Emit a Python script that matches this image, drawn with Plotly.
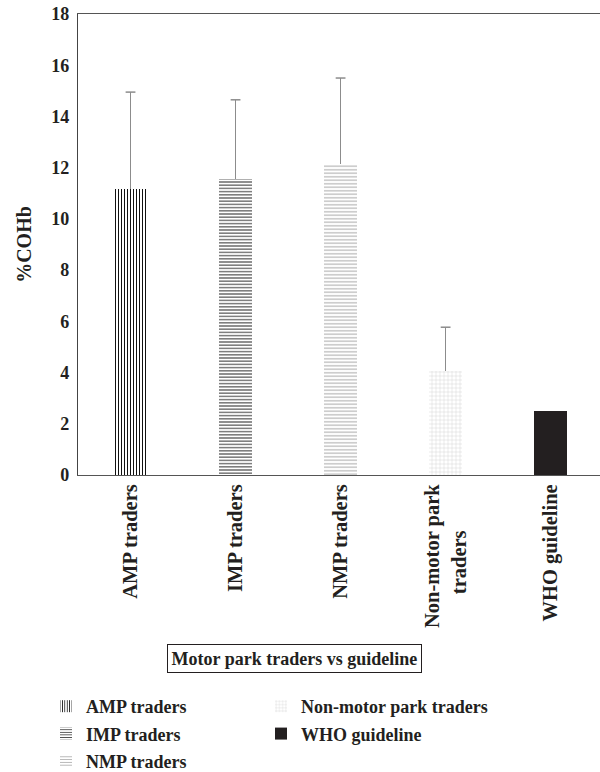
import plotly.graph_objects as go

categories = ["AMP traders", "IMP traders", "NMP traders", "Non-motor park traders", "WHO guideline"]
tick_labels = ["AMP traders", "IMP traders", "NMP traders",
               "Non-motor park<br>traders" + "\u00a0" * 9, "WHO guideline"]
cohb_mean = [11.15, 11.55, 12.15, 4.05, 2.5]
cohb_sd = [3.8, 3.1, 3.35, 1.72, None]
y_ticks = [0, 2, 4, 6, 8, 10, 12, 14, 16, 18]

styles = [
    dict(shape="|", fg="#111111", size=3, sol=0.35, color="white"),
    dict(shape="-", fg="#2a2a2a", size=3.2, sol=0.3, color="white"),
    dict(shape="-", fg="#a6a6a6", size=3.5, sol=0.28, color="white"),
    dict(shape="+", fg="#d2d2d2", size=4, sol=0.2, color="white"),
    dict(shape="", fg="#231f20", size=4, sol=0.3, color="#231f20"),
]
legend_ids = ["legend", "legend", "legend", "legend2", "legend2"]

fig = go.Figure()
for i, cat in enumerate(categories):
    st = styles[i]
    err = cohb_sd[i]
    fig.add_trace(go.Bar(
        x=[i], y=[cohb_mean[i]], name=cat, width=0.31,
        legend=legend_ids[i], legendgroup=cat,
        marker=dict(color=st["color"], line=dict(width=0),
                    pattern=dict(shape=st["shape"], fgcolor=st["fg"], bgcolor=st["color"],
                                 size=st["size"], solidity=st["sol"], fillmode="replace")),
        error_y=dict(type="data", array=[err if err is not None else 0], arrayminus=[0],
                     visible=err is not None, color="#8c8c8c", thickness=1.5, width=0,
                     symmetric=False),
    ))

# caps at the top of the error whiskers
cap_x = [i for i, s in enumerate(cohb_sd) if s is not None]
cap_y = [cohb_mean[i] + cohb_sd[i] for i in cap_x]
fig.add_trace(go.Scatter(x=cap_x, y=cap_y, mode="markers", showlegend=False, hoverinfo="skip",
                         marker=dict(symbol="line-ew", size=7,
                                     line=dict(color="#8c8c8c", width=1.5))))

base_font = dict(family="Liberation Serif", color="#231f20", weight="bold")
tick_font = dict(base_font, size=18)
xlab_font = dict(base_font, size=20.5)
title_font = dict(base_font, size=20)
leg_font = dict(base_font, size=18)

fig.update_layout(
    width=600, height=772,
    margin=dict(l=78, r=0, t=14, b=297, autoexpand=False),
    paper_bgcolor="white", plot_bgcolor="white",
    font=leg_font, showlegend=True, bargap=0,
    xaxis=dict(range=[-0.5, 4.47], tickmode="array", tickvals=list(range(5)),
               ticktext=tick_labels, tickangle=-90, showline=True, linecolor="#555555",
               linewidth=1.2, mirror=True, ticks="", showgrid=False, zeroline=False,
               tickfont=xlab_font, automargin=False),
    yaxis=dict(range=[0, 18], tickmode="array", tickvals=y_ticks, showline=True,
               linecolor="#444444", linewidth=1.2, ticks="", showgrid=False, zeroline=False,
               tickfont=tick_font, automargin=False, ticklabelstandoff=4,
               ticklabeloverflow="allow",
               title=dict(text="%COHb", font=title_font, standoff=14)),
    legend=dict(x=-0.0613, y=-0.462, xanchor="left", yanchor="top", font=leg_font,
                tracegroupgap=1, bgcolor="rgba(0,0,0,0)"),
    legend2=dict(x=0.3506, y=-0.462, xanchor="left", yanchor="top", font=leg_font,
                 tracegroupgap=1, bgcolor="rgba(0,0,0,0)"),
    annotations=[dict(text="Motor park traders vs guideline", x=0.4157, y=-0.397,
                      xref="paper", yref="paper", showarrow=False, font=leg_font,
                      bordercolor="#231f20", borderwidth=1, borderpad=3.5,
                      xanchor="center", yanchor="middle")],
)

fig.write_html("out.html", config={"displayModeBar": False},
               post_script="document.body.style.margin='0';document.body.style.overflow='hidden';")
